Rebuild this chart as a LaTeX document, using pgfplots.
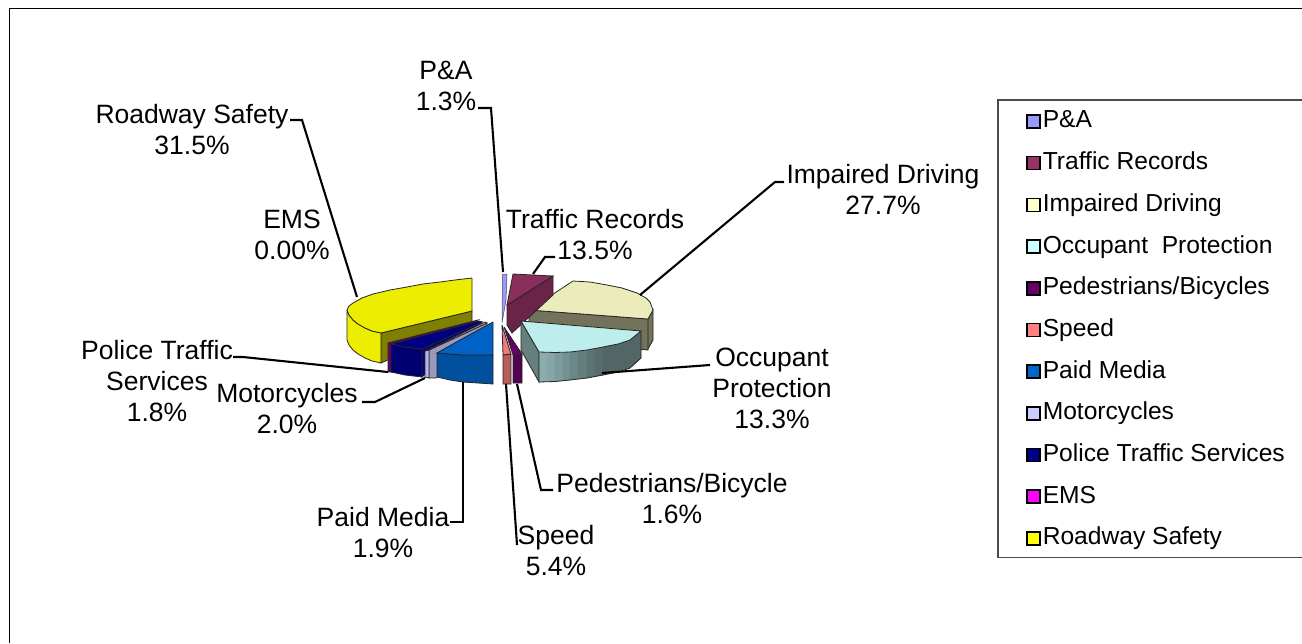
\documentclass[border=0pt]{standalone}
\usepackage{pgfplots}
\pgfplotsset{compat=1.18}
\usepackage{fontspec}
\setmainfont{Liberation Sans}

\definecolor{cPA}{HTML}{9999FF}
\definecolor{cTR}{HTML}{993366}
\definecolor{cID}{HTML}{FFFFCC}
\definecolor{cOP}{HTML}{CCFFFF}
\definecolor{cPB}{HTML}{660066}
\definecolor{cSP}{HTML}{FF8080}
\definecolor{cPM}{HTML}{0066CC}
\definecolor{cMC}{HTML}{CCCCFF}
\definecolor{cPT}{HTML}{000080}
\definecolor{cEM}{HTML}{FF00FF}
\definecolor{cRS}{HTML}{FFFF00}
\definecolor{cOlive}{HTML}{7F7F00}

\pgfplotsset{
  slice/.style={forget plot, draw=black!85, line width=0.8pt, fill=#1},
  band/.style={forget plot, draw=cOP!#1!black, line width=0.3pt, fill=cOP!#1!black},
  leader/.style={forget plot, black, line width=2.1pt},
  legsq/.style={draw=black, line width=1.6pt, fill=#1},
}
% coordinate is the baseline of the last line
\newcommand{\lab}[3]{\node[anchor=base, align=center, font=\fontsize{26.5}{31}\selectfont, inner sep=0pt] at (axis cs:#1,#2) {#3};}

\begin{document}
\begin{tikzpicture}
\path[use as bounding box] (0,0) rectangle (1302pt,643pt);
\begin{axis}[
    at={(0,0)}, anchor=south west,
    scale only axis,
    width=1302pt, height=643pt,
    xmin=0, xmax=1302, ymin=0, ymax=643,
    y dir=reverse,
    hide axis,
    clip=true,
    legend cell align=left,
    legend image code/.code={\draw[#1] (0pt,-6.5pt) rectangle (13pt,6.5pt);},
    legend style={
        at={(axis cs:1026,100)}, anchor=north west,
        draw=none, fill=none,
        font=\fontsize{24.6}{29}\selectfont,
        row sep=18.7pt, inner xsep=0pt, inner ysep=9.7pt,
        nodes={text height=18pt, text depth=5pt, inner xsep=2pt, inner ysep=0pt},
    },
]
% outer frame and legend box, both run off the right side
\addplot[forget plot, black, line width=1.6pt] coordinates {(9.5,643)(9.5,8.5)(1302,8.5)};
\addplot[forget plot, black!70, line width=1.5pt] coordinates {(1302,100)(998,100)(998,557.5)(1302,557.5)};

% Roadway Safety
\addplot[slice=cOlive] coordinates {(381,333)(472,311)(472,322)(381,363)(381,333)};
\addplot[slice=cRS!93!black] coordinates {(347,310)(347,340)(349,345)(353,350)(358,354)(365,358)(372,361)(381,363)(381,333)(372,331)(365,328)(358,324)(353,320)(349,315)(347,310)};
\addplot[slice=cRS!93!black] coordinates {(472,278)(455,280)(440,282)(423,284)(407,287)(390,290)(373,294)(362,298)(353,303)(349,306)(347,310)(349,315)(353,320)(358,324)(365,328)(372,331)(381,333)(472,311)(472,278)};

% EMS sliver
\addplot[slice=cPB] coordinates {(388,343)(478,320)(392,372)(388,372)(388,343)};

% Police Traffic Services
\addplot[slice=cPT] coordinates {(422,349)(482,322)(480,328)(422,377)(422,349)};
\addplot[slice=cPT!88!black] coordinates {(391,344)(405,347)(422,349)(422,377)(405,375)(391,372)(391,344)};
\addplot[slice=cPT] coordinates {(391,344)(479,321)(482,322)(422,349)(405,347)(391,344)};

% Motorcycles
\addplot[slice=cMC!75!black] coordinates {(429,350)(487,323)(487,330)(436,378)(429,378)(429,350)};
\addplot[slice=cMC!90!black] coordinates {(425,351)(429,350)(429,378)(425,377)(425,351)};
\addplot[slice=cMC!92!black] coordinates {(425,351)(485,322)(487,323)(429,350)(425,351)};

% Paid Media
\addplot[slice=cPM!78!black] coordinates {(437,353)(450,354)(463,355)(493,355)(493,384)(463,382)(450,380)(437,377)(437,353)};
\addplot[slice=cPM!96!black] coordinates {(493,322)(493,355)(463,355)(450,354)(437,353)(460,340)(493,322)};

% Impaired Driving
\addplot[slice=cID!45!black] coordinates {(648,319)(653,310)(653,340)(648,349)(640,349)(640,320)(648,319)};
\addplot[slice=cID!45!black] coordinates {(529,310)(648,319)(648,350)(529,340)(529,310)};
\addplot[slice=cID!92!black] coordinates {(573,281)(590,282)(607,285)(622,288)(637,293)(646,298)(650,302)(653,310)(648,319)(529,310)(573,281)};

% Traffic Records
\addplot[slice=cTR!70!black] coordinates {(507,305)(553,276)(553,295)(512,333)(507,325)(507,305)};
\addplot[slice=cTR!90!black] coordinates {(513,274)(553,276)(507,305)(513,274)};

% P&A
\addplot[forget plot, draw=black!70, line width=0.5pt, fill=cPA] coordinates {(502.5,274)(507,274)(506,300)(502,323)(502.5,274)};

% Occupant Protection, front wall in steps for the shading
\addplot[slice=cOP!50!black] coordinates {(521,321)(539,352)(539,382)(521,350)(521,321)};
\addplot[band=68] coordinates {(539,352)(547,352.3)(547,381.8)(539,382)(539,352)};
\addplot[band=65] coordinates {(547,352.3)(555,352.5)(555,381.5)(547,381.8)(547,352.3)};
\addplot[band=61] coordinates {(555,352.5)(563,352.3)(563,380.8)(555,381.5)(555,352.5)};
\addplot[band=57] coordinates {(563,352.3)(570,352)(570,380)(563,380.8)(563,352.3)};
\addplot[band=53] coordinates {(570,352)(578,351)(578,379)(570,380)(570,352)};
\addplot[band=49] coordinates {(578,351)(587,350)(587,378)(578,379)(578,351)};
\addplot[band=45] coordinates {(587,350)(595,348.5)(595,376.5)(587,378)(587,350)};
\addplot[band=42] coordinates {(595,348.5)(603,347)(603,375)(595,376.5)(595,348.5)};
\addplot[band=40] coordinates {(603,347)(630,340)(641,331)(641,358)(630,368)(603,375)(603,347)};
\addplot[forget plot, draw=black!85, line width=0.8pt] coordinates {(539,352)(539,382)(555,381.5)(570,380)(587,378)(603,375)(618,372)(630,368)(641,358)(641,331)};
\addplot[slice=cOP!93!black] coordinates {(521,321)(641,331)(630,340)(618,344)(603,347)(587,350)(570,352)(555,352.5)(539,352)(521,321)};

% Pedestrians/Bicycles
\addplot[slice=cPB!80!black] coordinates {(513,355)(522,354)(522,383)(513,383)(513,355)};
\addplot[slice=cPB] coordinates {(504,327)(522,354)(513,355)(504,327)};

% Speed
\addplot[slice=cSP!72!black] coordinates {(503,355)(511,354)(511,384)(503,384)(503,355)};
\addplot[slice=cSP!95!black] coordinates {(502,325)(511,354)(503,355)(502,325)};

% leader lines
\addplot[leader] coordinates {(290,120)(302,120)(357,297)};
\addplot[leader] coordinates {(478,108)(491,108)(503,272)};
\addplot[leader] coordinates {(533,274)(545,257)(555,257)};
\addplot[leader] coordinates {(640,295)(775,182)(784,182)};
\addplot[leader] coordinates {(602,373)(710,365)};
\addplot[leader] coordinates {(517,384)(541,490)(553,490)};
\addplot[leader] coordinates {(506,384)(517,545)};
\addplot[leader] coordinates {(463,382)(463,522)(450,522)};
\addplot[leader] coordinates {(425,378)(375,402)(362,402)};
\addplot[leader] coordinates {(388,372)(243,357)(233,357)};

% legend
\addlegendimage{legsq=cPA}\addlegendentry{P\&A}
\addlegendimage{legsq=cTR}\addlegendentry{Traffic Records}
\addlegendimage{legsq=cID}\addlegendentry{Impaired Driving}
\addlegendimage{legsq=cOP}\addlegendentry{Occupant\ \ Protection}
\addlegendimage{legsq=cPB}\addlegendentry{Pedestrians/Bicycles}
\addlegendimage{legsq=cSP}\addlegendentry{Speed}
\addlegendimage{legsq=cPM}\addlegendentry{Paid Media}
\addlegendimage{legsq=cMC}\addlegendentry{Motorcycles}
\addlegendimage{legsq=cPT}\addlegendentry{Police Traffic Services}
\addlegendimage{legsq=cEM}\addlegendentry{EMS}
\addlegendimage{legsq=cRS}\addlegendentry{Roadway Safety}

% slice labels
\lab{446}{110}{P\&A\\1.3\%}
\lab{192}{154}{Roadway Safety\\31.5\%}
\lab{595}{259}{Traffic Records\\13.5\%}
\lab{883}{214}{Impaired Driving\\27.7\%}
\lab{292}{259}{EMS\\0.00\%}
\lab{157}{421}{Police Traffic\\Services\\1.8\%}
\lab{287}{433}{Motorcycles\\2.0\%}
\lab{772}{428}{Occupant\\Protection\\13.3\%}
\lab{672}{523}{Pedestrians/Bicycle\\1.6\%}
\lab{556}{575}{Speed\\5.4\%}
\lab{383}{557}{Paid Media\\1.9\%}
\end{axis}
\end{tikzpicture}
\end{document}
